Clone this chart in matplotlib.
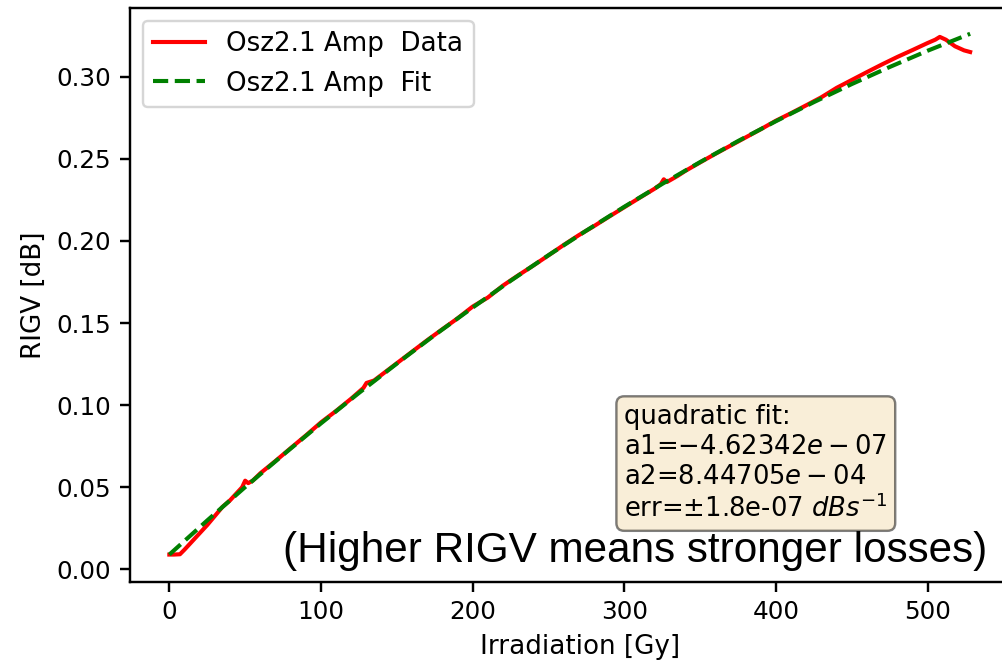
import matplotlib
matplotlib.use("Agg")
import matplotlib.pyplot as plt

dose = [0, 3, 7, 10, 15, 20, 25, 30, 35, 40, 45, 48, 50, 52, 55, 60, 70, 80, 90, 100,
        110, 120, 128, 130, 135, 140, 150, 160, 170, 180, 190, 200, 210, 220, 230, 240,
        250, 260, 270, 280, 290, 300, 310, 320, 324, 326, 328, 335, 340, 350, 360, 370,
        380, 390, 400, 410, 420, 430, 440, 450, 460, 470, 480, 490, 500, 505, 508, 512,
        518, 524, 528]
rigv = [0.0090, 0.0090, 0.0092, 0.0120, 0.0170, 0.0220, 0.0270, 0.0325, 0.0380, 0.0420,
        0.0470, 0.0500, 0.0540, 0.0525, 0.0540, 0.0585, 0.0660, 0.0738, 0.0815, 0.0895,
        0.0965, 0.1040, 0.1105, 0.1135, 0.1150, 0.1185, 0.1255, 0.1325, 0.1395, 0.1462,
        0.1528, 0.1600, 0.1655, 0.1728, 0.1790, 0.1850, 0.1912, 0.1975, 0.2035, 0.2090,
        0.2148, 0.2205, 0.2262, 0.2318, 0.2345, 0.2375, 0.2358, 0.2395, 0.2425, 0.2478,
        0.2530, 0.2580, 0.2630, 0.2680, 0.2732, 0.2778, 0.2826, 0.2875, 0.2932, 0.2980,
        0.3028, 0.3075, 0.3120, 0.3162, 0.3205, 0.3225, 0.3242, 0.3225, 0.3185, 0.3160,
        0.3150]

# fitted curve
fit_dose = [0, 25, 50, 75, 100, 125, 150, 175, 200, 225, 250, 275, 300, 325, 350, 375,
            400, 425, 450, 475, 500, 528]
fit_rigv = [0.0090, 0.0298, 0.0501, 0.0697, 0.0889, 0.1074, 0.1253, 0.1427, 0.1594,
            0.1757, 0.1913, 0.2063, 0.2208, 0.2347, 0.2480, 0.2608, 0.2729, 0.2845,
            0.2955, 0.3059, 0.3158, 0.3261]

fit_text = ("quadratic fit:\n"
            "a1=$-4.62342e-07$\n"
            "a2=$8.44705e-04$\n"
            "err=$\\pm$1.8e-07 $dBs^{-1}$")

fig = plt.figure(figsize=(1002/174, 661/174), dpi=174)
# right spine sits just outside the picture, as in the cropped original
ax = fig.add_axes([129.6/1002, 79/661, 900/1002, 574/661])

ax.plot(dose, rigv, color="red", lw=1.7, label="Osz2.1 Amp  Data")
ax.plot(fit_dose, fit_rigv, color="green", lw=1.7, linestyle="--", label="Osz2.1 Amp  Fit")

ax.set_xlim(-26.2, 567.2)
ax.set_ylim(-0.0077, 0.3418)
ax.tick_params(labelsize=10.2, width=1.0, length=4)
for s in ax.spines.values():
    s.set_linewidth(1.0)
ax.set_xlabel("Irradiation [Gy]", fontsize=10.8)
ax.set_ylabel("RIGV [dB]", fontsize=10.8)
ax.legend(loc="upper left", fontsize=10.8)

ax.text(0.5495, 0.31, fit_text, transform=ax.transAxes, va="top", ha="left",
        fontsize=10.7, bbox=dict(boxstyle="round", facecolor="wheat", alpha=0.5))

ax.text(0.1704, 0.035, "(Higher RIGV means stronger losses)", transform=ax.transAxes,
        family="Liberation Sans", fontsize=17.5, va="baseline", ha="left")

fig.savefig("out.png", dpi=174)
